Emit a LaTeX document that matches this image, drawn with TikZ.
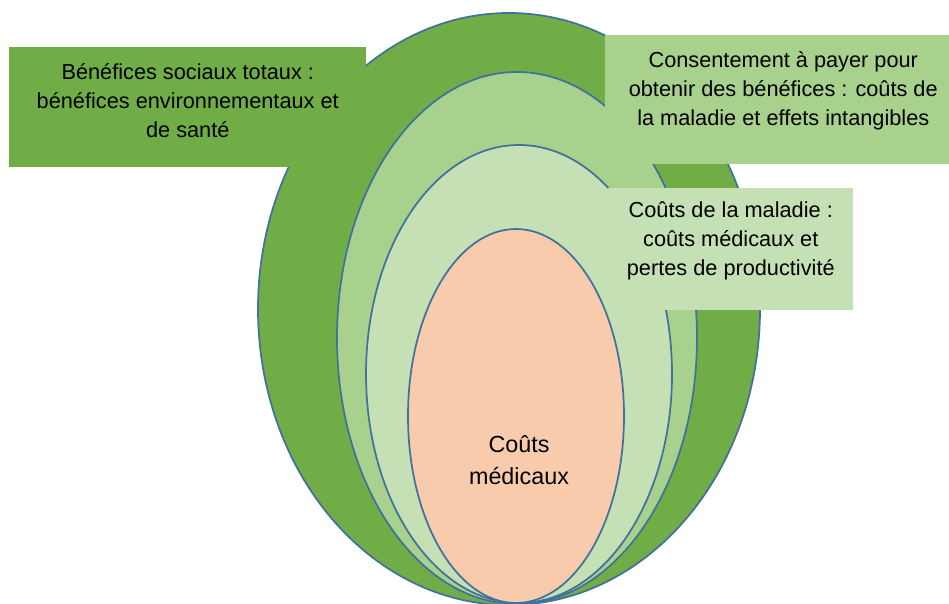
\documentclass[tikz,border=0pt]{standalone}
\usepackage{fontspec}
\setmainfont{Liberation Sans}
\definecolor{darkleaf}{HTML}{70AD47}
\definecolor{midleaf}{HTML}{A9D18E}
\definecolor{paleleaf}{HTML}{C5E0B4}
\definecolor{peach}{HTML}{F8CBAD}
\definecolor{rimblue}{HTML}{41719C}
\begin{document}
\begin{tikzpicture}[x=0.75pt, y=0.75pt,
  rim/.style={draw=rimblue, line width=1.3pt},
  box/.style={rectangle, draw=none, anchor=north west, inner sep=0pt},
  lbl/.style={align=center, font=\fontsize{16.3}{21.75}\selectfont, text=black}]
  \useasboundingbox (0,0) rectangle (949,603);
  \begin{scope}
  \clip (0,0) rectangle (949,603);
  % nested ellipses, all touching at the bottom
  \fill[darkleaf, rim] (509,294) ellipse [x radius=251, y radius=296];
  \fill[midleaf, rim] (517,265) ellipse [x radius=180, y radius=266];
  \fill[paleleaf, rim] (519,229) ellipse [x radius=153, y radius=229];
  \fill[peach, rim] (516,187) ellipse [x radius=108, y radius=187];
  % boxes
  \node[box, fill=darkleaf, minimum width=267.75pt, minimum height=90pt] (total) at (9,556) {};
  \node[box, fill=midleaf, minimum width=267pt, minimum height=96.75pt] (wtp) at (605,568) {};
  \node[box, fill=paleleaf, minimum width=183.75pt, minimum height=91.5pt] (illness) at (608,415) {};
  \end{scope}
  % texts
  \node[lbl] (totaltxt) at ([yshift=5.25pt]total.center)
    {Bénéfices sociaux totaux :\\ bénéfices environnementaux et\\ de santé};
  \node[lbl] (wtptxt) at ([yshift=6.75pt]wtp.center)
    {Consentement à payer pour\\ obtenir des bénéfices : coûts de\\ la maladie et effets intangibles};
  \node[lbl] (illnesstxt) at ([yshift=6pt]illness.center)
    {Coûts de la maladie :\\ coûts médicaux et\\ pertes de productivité};
  \node[lbl, font=\fontsize{17.5}{24}\selectfont] (medtxt) at (519,143) {Coûts\\ médicaux};
\end{tikzpicture}
\end{document}
